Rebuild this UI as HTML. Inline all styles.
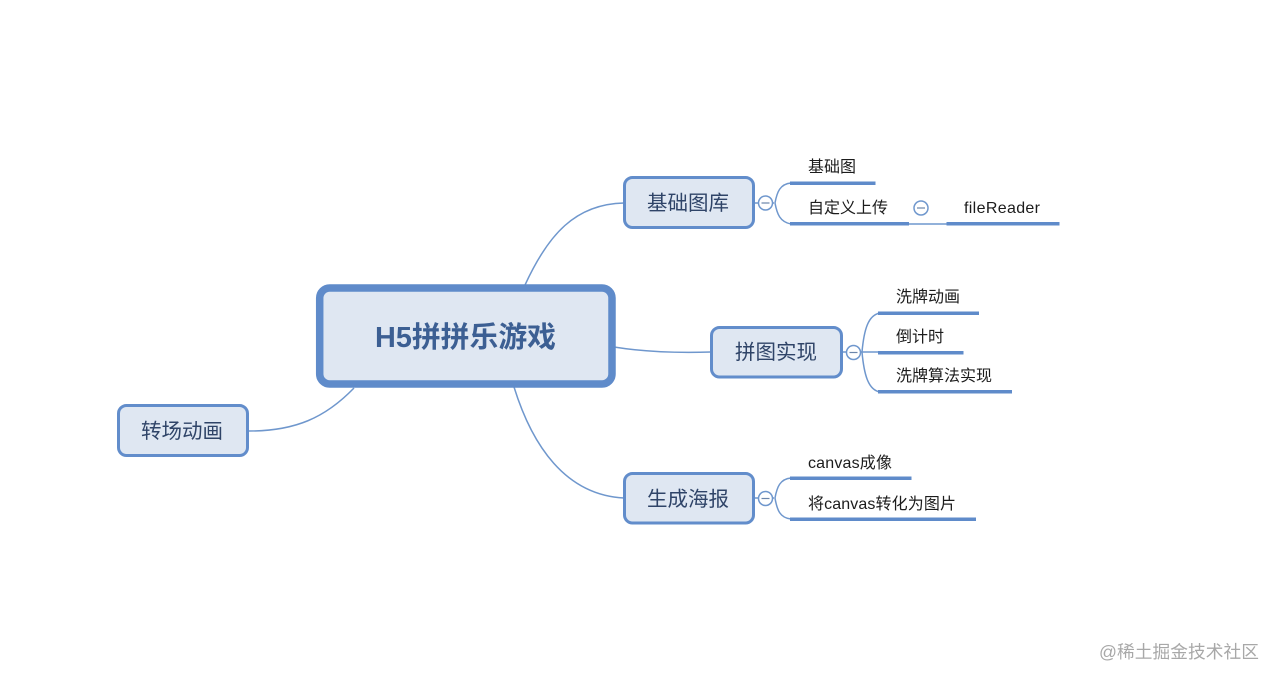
<!DOCTYPE html>
<html lang="zh">
<head>
<meta charset="utf-8">
<title>H5拼拼乐游戏</title>
<style>
html,body{margin:0;padding:0;background:#fff;width:1280px;height:682px;overflow:hidden}
svg{display:block}
text{font-family:"Liberation Sans","Noto Sans CJK SC",sans-serif}
.c{fill:none;stroke:#6f97cd;stroke-width:1.5}
.b{fill:#5f8bca}
.m{fill:#dfe7f2;stroke:#628dcb;stroke-width:3}
.t{font-size:20.5px;fill:#2f4468}
.s{font-size:16px;fill:#1c1c1c}
.k{fill:#fff;stroke:#6f97cd;stroke-width:1.5}
.d{stroke:#6b85ab;stroke-width:1.2}
</style>
</head>
<body>
<svg width="1280" height="682" viewBox="0 0 1280 682" xmlns="http://www.w3.org/2000/svg">
<!-- main connectors -->
<path class="c" d="M525 285C548 235 575 204 624 203"/>
<path class="c" d="M614 347C645 352 680 353 711 352"/>
<path class="c" d="M514 387C532 445 565 495 624 498"/>
<path class="c" d="M354 388C325 418 295 431 249 431"/>

<!-- central -->
<rect x="319.7" y="288" width="292.3" height="96" rx="10" fill="#dfe7f2" stroke="#5f8bca" stroke-width="7.5"/>
<text x="375" y="347" font-size="29" font-weight="700" fill="#3c5f93" textLength="181" lengthAdjust="spacingAndGlyphs">H5拼拼乐游戏</text>

<!-- topic nodes -->
<rect class="m" x="624.500" y="177.500" width="129" height="50" rx="8"/>
<text class="t" x="647" y="210">基础图库</text>
<rect class="m" x="711.500" y="327.500" width="130" height="49.500" rx="8"/>
<text class="t" x="735" y="359">拼图实现</text>
<rect class="m" x="624.500" y="473.500" width="129" height="49.500" rx="8"/>
<text class="t" x="647" y="506">生成海报</text>
<rect class="m" x="118.500" y="405.500" width="129" height="50" rx="8"/>
<text class="t" x="141" y="438">转场动画</text>

<!-- 基础图库 branches -->
<path class="c" d="M755 203H774"/>
<path class="c" d="M791 183C780 184 777 192 775 203C777 214 780 222 791 224"/>
<circle class="k" cx="765.500" cy="203" r="7"/>
<line class="d" x1="761.500" y1="203" x2="769.500" y2="203"/>
<rect class="b" x="790" y="181.500" width="85.500" height="3.500"/>
<text class="s" x="808" y="172">基础图</text>
<rect class="b" x="790" y="222" width="119" height="3.500"/>
<text class="s" x="808" y="213">自定义上传</text>
<path class="c" d="M909 224H947"/>
<rect class="b" x="946.500" y="222" width="113" height="3.500"/>
<circle class="k" cx="921" cy="208" r="7"/>
<line class="d" x1="917" y1="208" x2="925" y2="208"/>
<text class="s" x="964" y="213" textLength="76">fileReader</text>

<!-- 拼图实现 branches -->
<path class="c" d="M843 352H880"/>
<path class="c" d="M880 313C868 315 864 330 862 352C864 374 868 390 880 392"/>
<circle class="k" cx="853.500" cy="352.500" r="7"/>
<line class="d" x1="849.500" y1="352.500" x2="857.500" y2="352.500"/>
<rect class="b" x="878" y="311.500" width="101" height="3.500"/>
<text class="s" x="896" y="302">洗牌动画</text>
<rect class="b" x="878" y="351" width="85.500" height="3.500"/>
<text class="s" x="896" y="342">倒计时</text>
<rect class="b" x="878" y="390" width="134" height="3.500"/>
<text class="s" x="896" y="381">洗牌算法实现</text>

<!-- 生成海报 branches -->
<path class="c" d="M755 498H774"/>
<path class="c" d="M791 478C780 479 777 487 775 498C777 510 780 518 791 519"/>
<circle class="k" cx="765.500" cy="498.500" r="7"/>
<line class="d" x1="761.500" y1="498.500" x2="769.500" y2="498.500"/>
<rect class="b" x="790" y="476.500" width="121.500" height="3.500"/>
<text class="s" x="808" y="468" textLength="84">canvas成像</text>
<rect class="b" x="790" y="517.500" width="186" height="3.500"/>
<text class="s" x="808" y="509" textLength="148">将canvas转化为图片</text>

<!-- watermark -->
<text x="1099" y="658" font-size="17.700" fill="#a8a8a8" textLength="160">@稀土掘金技术社区</text>
</svg>
</body>
</html>
